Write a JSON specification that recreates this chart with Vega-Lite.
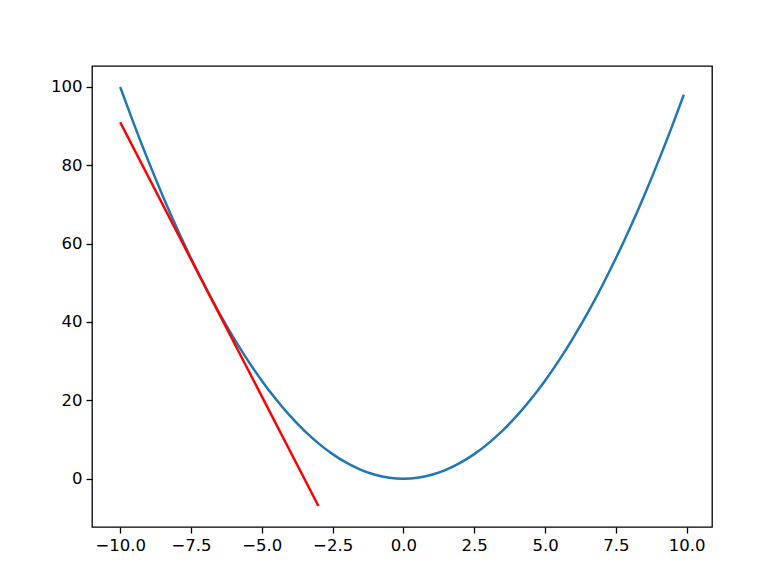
{
  "$schema": "https://vega.github.io/schema/vega-lite/v6.json",
  "width": 620,
  "height": 461,
  "autosize": {"type": "none"},
  "padding": {"left": 92, "top": 66, "right": 69, "bottom": 60},
  "background": "white",
  "config": {
    "view": {"stroke": "black", "strokeWidth": 1.3},
    "axis": {
      "grid": false,
      "domain": false,
      "tickColor": "black",
      "tickSize": 6,
      "tickWidth": 1.3,
      "labelFont": "DejaVu Sans",
      "labelFontSize": 16.5,
      "labelColor": "#000000",
      "labelPadding": 4,
      "title": null
    }
  },
  "datasets": {
    "curve": [
      {"x": -10, "y": 100}, {"x": -9.5, "y": 90.25}, {"x": -9, "y": 81}, {"x": -8.5, "y": 72.25},
      {"x": -8, "y": 64}, {"x": -7.5, "y": 56.25}, {"x": -7, "y": 49}, {"x": -6.5, "y": 42.25},
      {"x": -6, "y": 36}, {"x": -5.5, "y": 30.25}, {"x": -5, "y": 25}, {"x": -4.5, "y": 20.25},
      {"x": -4, "y": 16}, {"x": -3.5, "y": 12.25}, {"x": -3, "y": 9}, {"x": -2.5, "y": 6.25},
      {"x": -2, "y": 4}, {"x": -1.5, "y": 2.25}, {"x": -1, "y": 1}, {"x": -0.5, "y": 0.25},
      {"x": 0, "y": 0}, {"x": 0.5, "y": 0.25}, {"x": 1, "y": 1}, {"x": 1.5, "y": 2.25},
      {"x": 2, "y": 4}, {"x": 2.5, "y": 6.25}, {"x": 3, "y": 9}, {"x": 3.5, "y": 12.25},
      {"x": 4, "y": 16}, {"x": 4.5, "y": 20.25}, {"x": 5, "y": 25}, {"x": 5.5, "y": 30.25},
      {"x": 6, "y": 36}, {"x": 6.5, "y": 42.25}, {"x": 7, "y": 49}, {"x": 7.5, "y": 56.25},
      {"x": 8, "y": 64}, {"x": 8.5, "y": 72.25}, {"x": 9, "y": 81}, {"x": 9.5, "y": 90.25},
      {"x": 9.9, "y": 98.01}
    ],
    "tangent": [
      {"x": -10, "y": 91},
      {"x": -3, "y": -7}
    ]
  },
  "layer": [
    {
      "data": {"name": "curve"},
      "mark": {"type": "line", "color": "#1f77b4", "strokeWidth": 2.5, "interpolate": "monotone", "clip": true},
      "encoding": {
        "x": {
          "field": "x", "type": "quantitative",
          "scale": {"domain": [-10.995, 10.895], "nice": false, "zero": false},
          "axis": {"values": [-10, -7.5, -5, -2.5, 0, 2.5, 5, 7.5, 10], "format": ".1f"}
        },
        "y": {
          "field": "y", "type": "quantitative",
          "scale": {"domain": [-12.35, 105.35], "nice": false, "zero": false},
          "axis": {"values": [0, 20, 40, 60, 80, 100], "format": "d"}
        }
      }
    },
    {
      "data": {"name": "tangent"},
      "mark": {"type": "line", "color": "#ff0000", "strokeWidth": 2.5, "clip": true},
      "encoding": {
        "x": {"field": "x", "type": "quantitative"},
        "y": {"field": "y", "type": "quantitative"}
      }
    }
  ]
}
